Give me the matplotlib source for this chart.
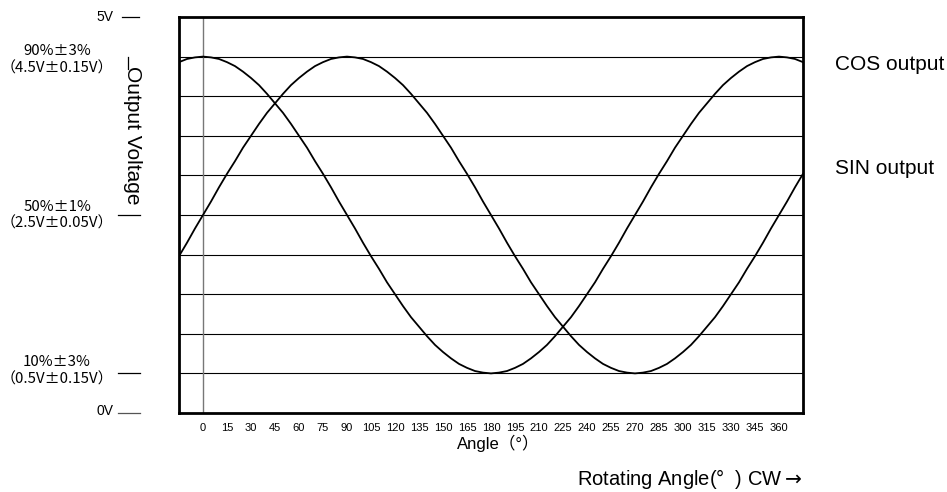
import matplotlib.pyplot as plt
import matplotlib.transforms as mtransforms

# values (volts, every 5 degrees from -15 to 375)
angles = list(range(-15, 380, 5))
cos_out = [4.43, 4.47, 4.49, 4.50, 4.49, 4.47, 4.43, 4.38, 4.31, 4.23,
           4.14, 4.03, 3.91, 3.79, 3.65, 3.50, 3.35, 3.18, 3.02, 2.85,
           2.67, 2.50, 2.33, 2.15, 1.98, 1.82, 1.65, 1.50, 1.35, 1.21,
           1.09, 0.97, 0.86, 0.77, 0.69, 0.62, 0.57, 0.53, 0.51, 0.50,
           0.51, 0.53, 0.57, 0.62, 0.69, 0.77, 0.86, 0.97, 1.09, 1.21,
           1.35, 1.50, 1.65, 1.82, 1.98, 2.15, 2.33, 2.50, 2.67, 2.85,
           3.02, 3.18, 3.35, 3.50, 3.65, 3.79, 3.91, 4.03, 4.14, 4.23,
           4.31, 4.38, 4.43, 4.47, 4.49, 4.50, 4.49, 4.47, 4.43]
sin_out = [1.98, 2.15, 2.33, 2.50, 2.67, 2.85, 3.02, 3.18, 3.35, 3.50,
           3.65, 3.79, 3.91, 4.03, 4.14, 4.23, 4.31, 4.38, 4.43, 4.47,
           4.49, 4.50, 4.49, 4.47, 4.43, 4.38, 4.31, 4.23, 4.14, 4.03,
           3.91, 3.79, 3.65, 3.50, 3.35, 3.18, 3.02, 2.85, 2.67, 2.50,
           2.33, 2.15, 1.98, 1.82, 1.65, 1.50, 1.35, 1.21, 1.09, 0.97,
           0.86, 0.77, 0.69, 0.62, 0.57, 0.53, 0.51, 0.50, 0.51, 0.53,
           0.57, 0.62, 0.69, 0.77, 0.86, 0.97, 1.09, 1.21, 1.35, 1.50,
           1.65, 1.82, 1.98, 2.15, 2.33, 2.50, 2.67, 2.85, 3.02]
tick_angles = list(range(0, 361, 15))
grid_levels = [0.5, 1.0, 1.5, 2.0, 2.5, 3.0, 3.5, 4.0, 4.5]

FONT = ['Liberation Sans', 'Noto Sans CJK JP', 'DejaVu Sans']
CJK = ['Noto Sans CJK JP', 'DejaVu Sans']
plt.rcParams['font.family'] = FONT

fig = plt.figure(figsize=(9.47, 4.92), dpi=100)
ax = fig.add_axes([179 / 947, 79 / 492, 624 / 947, 396 / 492])

for lv in grid_levels:
    ax.axhline(lv, color='black', lw=0.8)
ax.axvline(0, color='#777777', lw=1.0)

ax.plot(angles, cos_out, color='black', lw=1.3)
ax.plot(angles, sin_out, color='black', lw=1.3)

ax.set_xlim(-15, 375)
ax.set_ylim(0, 5)
ax.set_xticks(tick_angles)
ax.set_xticklabels([str(a) for a in tick_angles], fontsize=8)
ax.tick_params(axis='x', length=0, pad=7)
ax.set_yticks([])
for sp in ax.spines.values():
    sp.set_linewidth(2.0)

# left side level labels (x in figure pixels, y in volts)
blend = mtransforms.blended_transform_factory(fig.transFigure, ax.transData)

def fx(px):
    return px / 947

ax.plot([fx(122), fx(139)], [5.0, 5.0], color='black', lw=0.9, transform=blend, clip_on=False)
ax.plot([fx(118), fx(140)], [2.5, 2.5], color='black', lw=0.9, transform=blend, clip_on=False)
ax.plot([fx(118), fx(140)], [0.5, 0.5], color='black', lw=0.9, transform=blend, clip_on=False)
ax.plot([fx(118), fx(140)], [0.0, 0.0], color='#555555', lw=0.9, transform=blend, clip_on=False)
ax.plot([fx(128), fx(128)], [4.5, 4.34], color='black', lw=0.9, transform=blend, clip_on=False)

ax.text(fx(113), 5.0, '5V', ha='right', va='center', fontsize=10, transform=blend)
ax.text(fx(113), 0.03, '0V', ha='right', va='center', fontsize=10, transform=blend)

lbl = dict(ha='center', va='center', fontsize=10.8, transform=blend, family=CJK)
ax.text(fx(57), 4.575, '90%±3%', **lbl)
ax.text(fx(57), 4.345, '（4.5V±0.15V）', **lbl)
ax.text(fx(57), 2.595, '50%±1%', **lbl)
ax.text(fx(57), 2.39, '（2.5V±0.05V）', **lbl)
ax.text(fx(57), 0.645, '10%±3%', **lbl)
ax.text(fx(57), 0.425, '（0.5V±0.15V）', **lbl)

ax.text(fx(132), 3.51, 'Output Voltage', rotation=270, ha='center', va='center',
        fontsize=15, transform=blend)

# right side labels
fig.text(835 / 947, 1 - 65 / 492, 'COS output', ha='left', va='center', fontsize=15)
fig.text(835 / 947, 1 - 168 / 492, 'SIN output', ha='left', va='center', fontsize=15)

# bottom labels
fig.text(457 / 947, 1 - 443 / 492, 'Angle（°）', ha='left', va='center', fontsize=12)
fig.text(577 / 947, 1 - 479 / 492, r'Rotating Angle(°  ) CW$\rightarrow$', ha='left', va='center',
         fontsize=14.5)

fig.savefig('out.png', dpi=100)
